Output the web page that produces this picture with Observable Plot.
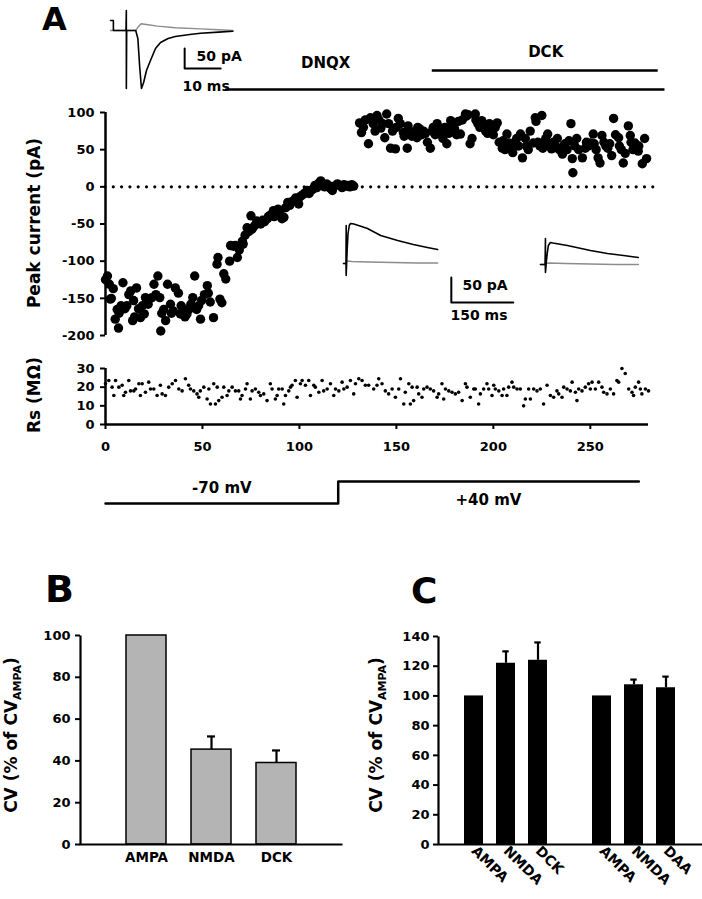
<!DOCTYPE html>
<html><head><meta charset="utf-8">
<script src="https://cdn.jsdelivr.net/npm/d3@7"></script>
<script src="https://cdn.jsdelivr.net/npm/@observablehq/plot@0.6"></script>
<style>
html,body{margin:0;padding:0;background:#fff;}
#fig{position:relative;width:702px;height:899px;overflow:hidden;font-family:"DejaVu Sans",sans-serif;font-weight:bold;color:#000;}
.lbl{position:absolute;white-space:nowrap;line-height:1.2;}
.ylab{position:absolute;white-space:nowrap;line-height:1;transform:translate(-50%,-50%) rotate(-90deg);font-size:17px;}
.ylab sub{font-size:11px;}
</style></head><body>
<div id="fig">
  <div class="lbl" style="left:42px;top:0px;font-size:32px">A</div>
  <div class="lbl" style="left:45px;top:567px;font-size:38px">B</div>
  <div class="lbl" style="left:411px;top:569px;font-size:36px">C</div>
  <div class="ylab" style="left:34px;top:223px">Peak current (pA)</div>
  <div class="ylab" style="left:34px;top:395px">Rs (MΩ)</div>
  <div class="ylab" style="left:13px;top:735px">CV (% of CV<sub>AMPA</sub>)</div>
  <div class="ylab" style="left:378px;top:735px">CV (% of CV<sub>AMPA</sub>)</div>
</div>
<script>
// ---------- Panel A: peak current (pA) vs time (s) ----------
const currentTime = [0,1,2,2.5,3,4,5,6,6.7,7,8,9,10,11,12,13,14,14.5,15,16,17,18,19,20,20.6,22,23,24,25,26,27,28,28.5,29,30,31,32,33.5,34,35,36,37.6,38.6,39,40,41,42,43,44,45,46,47,48,49,49.5,51,52.5,53,54,55.7,57.5,58,59,60,61,62,64,64.5,66,67,68,69,70.6,71,72,73,74,75,75.5,76,77,78,79,80,81,82,83.5,84,85,86.6,87,88.6,89,90,91,92,93,94,95,96,97,98,99.6,100,101,102,103,104,105,106,107,108,109,110,111,112,113,114,115,116,117,118,119.6,121,122,123,124,125,126,127,128,
131,132,133,134,135.6,136.6,138,139,140,141,142,143,144,145,146,147,148,149.5,150,151,152,153.6,154,155.6,156,157,158,159,160.6,161,162,163,164,165,166,167.5,168.5,169,170,171,172.6,173,174,175,176,177,178,179,180,181,182,183,184,185.6,186,187,188,189,190.7,191,192,193,194,195,196,197,198,199.5,200,201,202,203,204.6,205,206,207,208,209,210,211,212,213,214,215,216.5,217,218,219,220.6,221.6,222,223,224,225,225.5,226,227,228,229,230,231,232,233,234,235.6,236,237,238,239,240,240.7,241,242,243,244,245.9,247.4,248,249,250,251.5,252,253,254,255,256,257,258,259,260,261,262,263,264.6,265,266,267,268,269.6,270.6,271,272,273,274.7,275,276.8,278,279];
const currentPA = [-125,-120,-131,-151,-150,-137,-178,-165,-190,-170,-160,-129,-164,-160,-145,-140,-180,-153,-175,-136,-164,-176,-160,-171,-149,-158,-150,-149,-131,-145,-120,-149,-194,-170,-165,-180,-131,-158,-170,-167,-136,-143,-171,-160,-164,-175,-171,-165,-158,-149,-120,-165,-160,-178,-153,-145,-133,-143,-155,-176,-104,-95,-151,-156,-117,-124,-100,-79,-80,-79,-95,-85,-73,-77,-65,-55,-60,-39,-57,-55,-52,-46,-48,-50,-45,-47,-43,-40,-38,-32,-40,-36,-30,-33,-43,-41,-28,-21,-25,-20,-19,-15,-23,-14,-12,-10,-8,-5,-9,-5,-3,2,-1,5,8,3,0,4,2,-2,-5,1,4,2,-1,3,1,2,0,3,1,
86,73,80,90,58,93,85,75,96,90,79,85,66,98,85,52,75,51,80,92,85,73,68,52,82,75,68,71,66,80,78,70,75,72,60,52,75,80,70,85,78,70,65,80,58,72,89,82,78,70,88,71,90,98,95,97,58,65,98,90,85,80,89,80,75,72,85,75,70,80,86,60,52,62,50,71,59,55,46,60,65,55,71,39,65,55,50,75,59,93,88,60,55,96,52,60,65,71,58,51,60,55,65,50,44,55,58,50,62,85,38,19,55,65,50,39,52,60,55,59,71,58,50,39,32,69,60,55,52,58,42,92,70,66,55,50,32,45,82,69,60,50,59,48,55,31,65,38];

// Series resistance (MOhm) vs time (s)
const rsTime = [0,1.7,3.4,4.3,5.2,6.9,8.6,9.4,10.3,12.0,12.9,14.6,15.5,17.2,18.0,18.9,20.6,22.3,23.2,24.9,26.6,28.3,29.2,30.9,32.6,34.4,36.1,37.8,39.5,41.2,42.9,43.8,45.5,47.2,48.1,48.9,50.7,52.4,53.3,54.1,55.8,56.7,57.6,58.4,60.1,61.0,62.7,63.6,65.3,67.0,68.7,69.6,70.4,72.2,73.0,74.7,75.6,77.3,79.0,79.9,81.6,83.3,85.0,85.9,87.6,88.5,89.3,91.1,91.9,92.8,94.5,95.4,96.2,97.9,98.8,100.5,101.4,103.1,104.8,105.7,107.4,108.2,110.0,111.7,112.5,114.3,116.0,117.7,118.6,120.3,122.0,122.9,124.6,126.3,128.0,128.9,130.6,132.3,134.0,135.7,
138.3,140.0,140.9,142.6,144.3,146.0,147.8,149.5,151.2,152.1,153.8,154.6,156.4,157.2,158.1,158.9,160.7,161.5,163.2,164.1,165.8,167.5,169.2,171.0,171.8,173.5,174.4,175.3,177.0,178.7,180.4,182.1,183.9,185.6,186.4,188.1,189.9,190.7,192.4,193.3,195.0,196.7,197.6,199.3,200.2,201.0,202.8,204.5,205.3,207.0,207.9,209.6,210.5,212.2,213.9,215.6,216.5,218.2,219.1,220.8,222.5,224.2,225.9,227.7,229.4,231.1,232.8,233.7,235.4,236.3,238.0,239.7,240.6,242.3,243.1,244.0,245.7,247.4,249.1,250.0,250.9,252.6,254.3,256.0,256.9,258.6,260.3,262.0,263.7,264.6,266.3,268.0,269.8,271.5,272.3,273.2,274.9,275.8,276.6,278.4,280];
const rsMOhm = [21.8,23.6,20,15.5,23.6,20,21,15.5,17.3,23.6,18,18,19,21.8,15.5,21.8,17.3,22.7,19,19,15.5,21,16.4,15.5,20,21.8,23.6,19,18,24.5,21,19,18,16.4,14.6,18,20,13.7,19,11,21.8,11,20,12.8,14.6,20,15.5,18,20,18,18,13.7,15.5,19,21.8,13.7,18,19,17.3,15.5,16.4,12.8,21.8,19,13.7,15.5,19,19,11,15.5,18,20,21,23.6,14.6,21.8,23.6,21,23.6,15.5,21,20,17.3,23.6,18,19,21.8,15.5,19,18,22.7,19,20,23.6,16.4,21.8,24.5,23.6,21,21,
19,21,24.5,21.8,18,16.4,19,14.6,19,24.5,11,17.3,21.8,11,20,12.8,20,16.4,14.6,19,20,19,18,14.6,16.4,21.8,13.7,19,18,17.3,16.4,17.3,12.8,21.8,20,14.6,19,19,11,16.4,19,21.8,19,15.5,21,19,18,15.5,19,15.5,20,22.7,20,19,19,10,13.7,19,13.7,19,18,19,11,21,15.5,14.6,18,16.4,14.6,20,19,18,22.7,17.3,12.8,19,18,20,21.8,19,22.7,19,22.7,20,17.3,16.4,19,16.4,23.6,22.7,30,27.3,19,17.3,15.5,20,22.7,19,16.4,19,18];

// Drug applications (s)
const drugNames = ["DNQX", "DCK"];
const drugStart = [62, 168.5];
const drugEnd = [288.5, 285];
const drugLabelAt = [113.5, 227];

// Holding potential protocol
const holdTime = [0, 120, 275];
const holdMV = [-70, 40, 40];
const holdLabels = ["-70 mV", "+40 mV"];

// Inset: AMPA EPSC at -70 mV (ms, pA)
const insetATimeBlack = [0,0.8,0.8,4.3,4.4,4.4,4.5,7,7.6,8.1,8.6,9.2,10,11.1,12.5,13.9,16,18,22,25,30,34];
const insetABlack = [25,25,0,0,50,-145,0,0,-20,-90,-145,-130,-100,-75,-45,-30,-20,-15,-10,-7,-4,-2];
const insetATimeGray = [0,7,7.6,8.5,10,13,18,25,30,34];
const insetAGray = [0,0,8,17,15,11,7,4,2,0];
const scaleATime = [20.6, 20.6, 30.6];
const scaleAPA = [-45, -95, -95];

// Insets: NMDA EPSCs at +40 mV (ms, pA)
const inset1TimeBlack = [0,6,6.5,6.5,7.5,9,11,14,17,25,40,58,90,131,169,203,228];
const inset1Black = [0,0,76,-24,0,30,60,76,80,79,75,70,56,46,38,32,28];
const inset1TimeGray = [0,6,6.5,7.5,10,20,60,120,180,228];
const inset1Gray = [0,0,-20,3,5,4,3,2,1,1];
const inset2TimeBlack = [0,11,12,12,13.5,16,19,24,30,65,121,162,201,237];
const inset2Black = [0,0,52,-16,0,20,38,44,43,38,28,22,18,14];
const inset2TimeGray = [0,11,12,13.5,20,60,120,180,237];
const inset2Gray = [0,0,-10,2,3,2,1,0,0];
const scaleBTime = [261, 261, 411];
const scaleBPA = [-28, -78, -78];

// ---------- Panel B ----------
const bLabels = ["AMPA", "NMDA", "DCK"];
const bCV = [100, 45.4, 39];
const bSEM = [0, 6.3, 6];

// ---------- Panel C ----------
const cGroups = ["DCK", "DCK", "DCK", "DAA", "DAA", "DAA"];
const cLabels = ["AMPA", "NMDA", "DCK", "AMPA", "NMDA", "DAA"];
const cCV = [100, 122, 124, 100, 107.5, 105.5];
const cSEM = [0, 8, 12, 0, 3.5, 7.5];

// ---------- drawing ----------
const fig = document.getElementById("fig");
const STYLE = "position:absolute;left:0;top:0;background:transparent;overflow:visible;font-family:'DejaVu Sans',sans-serif;font-weight:bold;font-size:13px;";
function layer(opts) {
  const svg = Plot.plot(Object.assign({width: 702, height: 899, style: STYLE}, opts));
  fig.appendChild(svg);
}
const mA = {marginLeft: 105, marginRight: 54};
const pts = (xs, ys) => xs.map((x, i) => ({x, y: ys[i]}));

// Peak current scatter
layer({...mA, marginTop: 112, marginBottom: 899 - 335,
  x: {domain: [0, 280], axis: null},
  y: {domain: [-200, 100]},
  marks: [
    Plot.ruleX([0], {stroke: "#000", strokeWidth: 2.5}),
    Plot.axisY({ticks: [-200, -150, -100, -50, 0, 50, 100], tickFormat: d => String(d), tickSize: 5, tickPadding: 6, strokeWidth: 2, fontSize: 13, label: null}),
    Plot.ruleY([0], {x1: 0, x2: 285, stroke: "#000", strokeWidth: 3.2, strokeDasharray: "0 8.3", strokeLinecap: "round"}),
    Plot.dot(pts(currentTime, currentPA), {x: "x", y: "y", r: 4.7, fill: "#000"})
  ]});

// Rs
layer({...mA, marginTop: 368, marginBottom: 899 - 424,
  x: {domain: [0, 280]},
  y: {domain: [0, 30]},
  marks: [
    Plot.ruleX([0], {stroke: "#000", strokeWidth: 2.5}),
    Plot.ruleY([0], {stroke: "#000", strokeWidth: 2.5}),
    Plot.axisY({ticks: [0, 10, 20, 30], tickFormat: d => String(d), tickSize: 5, tickPadding: 6, strokeWidth: 2, fontSize: 13, label: null}),
    Plot.axisX({ticks: [0, 50, 100, 150, 200, 250], tickFormat: d => String(d), tickSize: 5, tickPadding: 12, strokeWidth: 2, fontSize: 13, label: null}),
    Plot.dot(pts(rsTime, rsMOhm), {x: "x", y: "y", r: 1.8, fill: "#000"})
  ]});

// Drug bars
const drugs = drugNames.map((name, i) => ({name, start: drugStart[i], end: drugEnd[i], at: drugLabelAt[i]}));
layer({...mA,
  x: {domain: [0, 280], axis: null},
  y: {type: "point", domain: ["DCK", "DNQX"], range: [60, 99], axis: null},
  marks: [
    Plot.ruleY(drugs, {y: "name", x1: "start", x2: "end", stroke: "#000", strokeWidth: 2.5}),
    Plot.text(drugs.filter(d => d.name === "DNQX"), {x: "at", y: "name", text: "name", dy: -26, fontSize: 15, fontWeight: "bold"}),
    Plot.text(drugs.filter(d => d.name === "DCK"), {x: "at", y: "name", text: "name", dy: -18, fontSize: 15, fontWeight: "bold"})
  ]});

// Holding potential
const segs = holdLabels.map((label, i) => ({label, t: (holdTime[i] + holdTime[i + 1]) / 2, mV: holdMV[i]}));
layer({...mA,
  x: {domain: [0, 280], axis: null},
  y: {domain: [-70, 40], range: [503, 481], axis: null},
  marks: [
    Plot.line(pts(holdTime, holdMV), {x: "x", y: "y", curve: "step-after", stroke: "#000", strokeWidth: 2.5}),
    Plot.text([segs[0]], {x: "t", y: "mV", text: "label", dy: -15, fontSize: 15, fontWeight: "bold"}),
    Plot.text([segs[1]], {x: "t", y: "mV", text: "label", dy: 19, fontSize: 15, fontWeight: "bold"})
  ]});

// Inset A (top-left)
layer({margin: 0,
  x: {domain: [0, 35], range: [110, 236], axis: null},
  y: {domain: [-150, 50], range: [90, 10], axis: null},
  marks: [
    Plot.line(pts(insetATimeGray, insetAGray), {x: "x", y: "y", stroke: "#8c8c8c", strokeWidth: 1.4}),
    Plot.line(pts(insetATimeBlack, insetABlack), {x: "x", y: "y", stroke: "#000", strokeWidth: 1.6}),
    Plot.line(pts(scaleATime, scaleAPA), {x: "x", y: "y", stroke: "#000", strokeWidth: 2}),
    Plot.text([{t: 23.9, v: -65}], {x: "t", y: "v", text: () => "50 pA", textAnchor: "start", fontSize: 14, fontWeight: "bold"}),
    Plot.text([{t: 20, v: -140}], {x: "t", y: "v", text: () => "10 ms", textAnchor: "start", fontSize: 14, fontWeight: "bold"})
  ]});

// Inset 1 (+40 mV, before DCK)
layer({margin: 0,
  x: {domain: [0, 420], range: [343, 516.5], axis: null},
  y: {domain: [-80, 90], range: [303, 218], axis: null},
  marks: [
    Plot.line(pts(inset1TimeGray, inset1Gray), {x: "x", y: "y", stroke: "#8c8c8c", strokeWidth: 1.4}),
    Plot.line(pts(inset1TimeBlack, inset1Black), {x: "x", y: "y", stroke: "#000", strokeWidth: 1.6}),
    Plot.line(pts(scaleBTime, scaleBPA), {x: "x", y: "y", stroke: "#000", strokeWidth: 2}),
    Plot.text([{t: 288, v: -44}], {x: "t", y: "v", text: () => "50 pA", textAnchor: "start", fontSize: 14, fontWeight: "bold"}),
    Plot.text([{t: 259, v: -104}], {x: "t", y: "v", text: () => "150 ms", textAnchor: "start", fontSize: 14, fontWeight: "bold"})
  ]});

// Inset 2 (+40 mV, DCK)
layer({margin: 0,
  x: {domain: [0, 240], range: [540, 639.1], axis: null},
  y: {domain: [-80, 90], range: [304, 219], axis: null},
  marks: [
    Plot.line(pts(inset2TimeGray, inset2Gray), {x: "x", y: "y", stroke: "#8c8c8c", strokeWidth: 1.4}),
    Plot.line(pts(inset2TimeBlack, inset2Black), {x: "x", y: "y", stroke: "#000", strokeWidth: 1.6})
  ]});

// Panel B
const bData = bLabels.map((label, i) => ({label, cv: bCV[i], sem: bSEM[i]}));
const bErr = bData.filter(d => d.sem > 0);
layer({marginLeft: 80, marginRight: 360, marginTop: 635, marginBottom: 55,
  x: {type: "band", domain: bLabels, paddingInner: 0.38, paddingOuter: 0.69},
  y: {domain: [0, 100]},
  marks: [
    Plot.barY(bData, {x: "label", y: "cv", fill: "#b4b4b4", stroke: "#000", strokeWidth: 1.5}),
    Plot.ruleX(bErr, {x: "label", y1: "cv", y2: d => d.cv + d.sem, stroke: "#000", strokeWidth: 2.2}),
    Plot.tickY(bErr, {x: "label", y: d => d.cv + d.sem, stroke: "#000", strokeWidth: 2.2, insetLeft: 16, insetRight: 16}),
    Plot.frame({stroke: "#000", strokeWidth: 2.2, strokeDasharray: "0 471 471"}),
    Plot.axisY({ticks: [0, 20, 40, 60, 80, 100], tickFormat: d => String(d), tickSize: 5, tickPadding: 5, strokeWidth: 2, fontSize: 13, label: null}),
    Plot.axisX({tickSize: 0, tickPadding: 8, fontSize: 13.5, label: null})
  ]});

// Panel C
const cKeys = cLabels.map((l, i) => cGroups[i] + "-" + l);
const cDomain = [...cKeys.slice(0, 3), "gap", ...cKeys.slice(3)];
const cData = cKeys.map((key, i) => ({key, cv: cCV[i], sem: cSEM[i]}));
const cErr = cData.filter(d => d.sem > 0);
layer({marginLeft: 438, marginRight: 0, marginTop: 636, marginBottom: 55,
  x: {type: "band", domain: cDomain, paddingInner: 0.4, paddingOuter: 0.77},
  y: {domain: [0, 140]},
  marks: [
    Plot.barY(cData, {x: "key", y: "cv", fill: "#000"}),
    Plot.ruleX(cErr, {x: "key", y1: "cv", y2: d => d.cv + d.sem, stroke: "#000", strokeWidth: 2.2}),
    Plot.tickY(cErr, {x: "key", y: d => d.cv + d.sem, stroke: "#000", strokeWidth: 2.2, insetLeft: 6.3, insetRight: 6.3}),
    Plot.frame({stroke: "#000", strokeWidth: 2.2, strokeDasharray: "0 472 472"}),
    Plot.axisY({ticks: [0, 20, 40, 60, 80, 100, 120, 140], tickFormat: d => String(d), tickSize: 5, tickPadding: 4, strokeWidth: 2, fontSize: 13, label: null}),
    Plot.axisX({ticks: cKeys, tickFormat: k => k.split("-")[1], tickRotate: 45, tickSize: 0, tickPadding: 4, fontSize: 14, label: null})
  ]});
</script></body></html>
